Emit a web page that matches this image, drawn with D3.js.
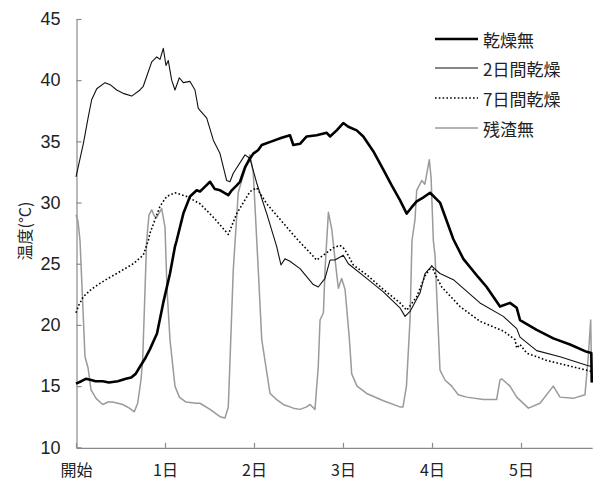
<!DOCTYPE html>
<html>
<head>
<meta charset="utf-8">
<script src="https://cdn.jsdelivr.net/npm/d3@7"></script>
<style>
  body { margin: 0; background: #fff; }
  svg { display: block; }
</style>
</head>
<body>
<svg id="chart" width="597" height="481"></svg>
<script>
// Elapsed time in days, temperature in °C
const dayTicks = [0, 1, 2, 3, 4, 5];
const dayLabels = ["開始", "1日", "2日", "3日", "4日", "5日"];
const tempTicks = [10, 15, 20, 25, 30, 35, 40, 45];
const seriesNames = ["乾燥無", "2日間乾燥", "7日間乾燥", "残渣無"];
const axisTitle = "温度(°C)";

const noDrying = [[0,15.2],[0.06,15.4],[0.11,15.6],[0.17,15.5],[0.22,15.4],[0.3,15.4],[0.37,15.3],[0.47,15.4],[0.56,15.6],[0.62,15.7],[0.67,16.0],[0.72,16.6],[0.78,17.3],[0.83,18.0],[0.91,19.3],[0.98,21.8],[1.056,24.2],[1.112,26.4],[1.131,26.9],[1.206,29.1],[1.281,30.5],[1.356,31.0],[1.393,30.9],[1.45,31.3],[1.506,31.7],[1.56,31.1],[1.62,31.0],[1.711,30.6],[1.75,31.0],[1.806,31.4],[1.843,31.7],[1.9,32.9],[1.955,33.6],[1.992,34.0],[2.048,34.3],[2.087,34.7],[2.199,35.0],[2.311,35.3],[2.404,35.5],[2.442,34.7],[2.517,34.8],[2.592,35.4],[2.704,35.5],[2.817,35.7],[2.854,35.4],[2.929,35.9],[3.003,36.5],[3.06,36.2],[3.154,35.9],[3.228,35.4],[3.34,34.2],[3.453,32.7],[3.547,31.4],[3.64,30.2],[3.716,29.1],[3.77,29.6],[3.828,30.1],[3.9,30.4],[3.978,30.8],[4.09,30.0],[4.24,27.0],[4.352,25.4],[4.52,23.9],[4.614,23.1],[4.764,21.5],[4.876,21.8],[4.952,21.4],[4.989,20.4],[5.176,19.6],[5.363,18.9],[5.551,18.4],[5.738,17.8],[5.79,17.7],[5.795,15.3]];

const twoDayDrying = [[0,32.1],[0.082,34.8],[0.138,37.0],[0.176,38.4],[0.233,39.3],[0.326,39.8],[0.39,39.6],[0.457,39.2],[0.54,38.9],[0.626,38.7],[0.719,39.2],[0.756,39.5],[0.794,40.3],[0.851,41.5],[0.907,41.9],[0.944,41.7],[0.981,42.6],[1.011,41.2],[1.037,41.6],[1.075,40.0],[1.112,39.2],[1.161,40.2],[1.206,39.8],[1.281,39.9],[1.337,39.2],[1.374,37.7],[1.469,36.9],[1.543,35.1],[1.618,34.0],[1.693,31.8],[1.73,31.7],[1.767,32.4],[1.899,33.9],[1.955,33.6],[2.03,31.6],[2.143,29.1],[2.255,26.4],[2.303,24.9],[2.348,25.4],[2.404,25.2],[2.517,24.6],[2.666,23.3],[2.722,23.1],[2.798,23.8],[2.854,25.3],[2.91,25.3],[3.003,25.7],[3.06,25.0],[3.266,23.8],[3.453,22.7],[3.64,21.4],[3.697,20.7],[3.753,21.1],[3.865,22.6],[3.921,24.2],[3.997,24.8],[4.09,24.2],[4.24,23.7],[4.539,21.8],[4.801,20.7],[4.952,19.7],[4.989,19.0],[5.176,17.9],[5.438,17.4],[5.738,16.7],[5.79,16.6]];

const sevenDayDrying = [[0,21.0],[0.03,21.6],[0.082,22.3],[0.17,22.9],[0.27,23.4],[0.36,23.8],[0.457,24.2],[0.55,24.6],[0.644,25.0],[0.756,25.7],[0.812,26.9],[0.831,27.5],[0.944,29.7],[1.019,30.5],[1.112,30.8],[1.244,30.5],[1.393,29.9],[1.543,28.8],[1.711,27.4],[1.806,29.1],[1.955,30.9],[2.03,31.2],[2.143,29.9],[2.367,28.0],[2.498,26.9],[2.629,25.9],[2.704,25.3],[2.817,25.9],[2.891,26.3],[2.966,26.5],[3.003,26.3],[3.042,25.9],[3.116,24.9],[3.266,24.1],[3.453,22.9],[3.64,21.8],[3.716,21.2],[3.828,22.3],[3.921,24.0],[3.997,24.8],[4.045,24.0],[4.109,23.1],[4.315,21.5],[4.539,20.3],[4.801,19.5],[4.933,18.8],[4.952,18.1],[4.989,18.4],[5.064,17.7],[5.289,17.1],[5.513,16.7],[5.738,16.3],[5.79,16.2]];

const noResidue = [[0,29.0],[0.022,28.5],[0.045,26.9],[0.101,17.4],[0.135,16.5],[0.169,14.7],[0.225,14.0],[0.3,13.5],[0.36,13.7],[0.412,13.7],[0.47,13.6],[0.525,13.5],[0.6,13.2],[0.655,12.9],[0.693,13.6],[0.73,15.5],[0.749,17.1],[0.794,26.9],[0.82,29.0],[0.851,29.4],[0.88,28.9],[0.907,28.8],[0.963,29.5],[1.0,28.0],[1.022,23.0],[1.056,18.8],[1.112,15.0],[1.161,14.1],[1.236,13.7],[1.348,13.6],[1.393,13.6],[1.506,13.1],[1.618,12.5],[1.674,12.4],[1.711,13.3],[1.73,17.0],[1.767,24.5],[1.823,30.8],[1.862,31.8],[1.899,32.7],[1.955,33.9],[1.992,32.4],[2.011,29.7],[2.048,24.5],[2.087,18.8],[2.18,14.4],[2.255,13.9],[2.329,13.5],[2.442,13.2],[2.517,13.1],[2.592,13.3],[2.629,13.5],[2.685,13.1],[2.722,16.6],[2.742,20.4],[2.78,21.0],[2.798,24.5],[2.817,26.9],[2.836,29.2],[2.874,27.8],[2.911,25.3],[2.948,23.0],[2.985,23.8],[3.023,22.9],[3.04,21.5],[3.07,19.0],[3.098,16.0],[3.157,15.0],[3.266,14.4],[3.453,13.8],[3.64,13.3],[3.674,13.3],[3.713,15.0],[3.753,20.4],[3.775,26.9],[3.809,28.6],[3.828,31.0],[3.885,31.8],[3.92,31.5],[3.97,33.5],[3.99,32.0],[4.015,26.9],[4.034,25.7],[4.09,16.3],[4.146,15.5],[4.221,15.0],[4.295,14.3],[4.39,14.1],[4.576,13.9],[4.726,13.9],[4.764,15.5],[4.783,15.6],[4.876,15.0],[4.952,14.1],[5.083,13.2],[5.213,13.6],[5.363,15.0],[5.438,14.1],[5.587,14.0],[5.719,14.3],[5.756,17.4],[5.783,20.4],[5.795,15.3]];

const seriesData = [noDrying, twoDayDrying, sevenDayDrying, noResidue];
const seriesStyle = [
  { stroke: "#000", width: 2.6, dash: null },
  { stroke: "#111", width: 1.1, dash: null },
  { stroke: "#000", width: 1.6, dash: "1.6,2.2" },
  { stroke: "#9a9a9a", width: 1.5, dash: null }
];

const svg = d3.select("#chart");
const x = d3.scaleLinear().domain([0, 5.8]).range([76, 592.2]);
const y = d3.scaleLinear().domain([10, 45]).range([447.3, 19]);

const axisColor = "#8a8a8a";
const tickFont = "'Liberation Sans', Arial, sans-serif";
const cjkFont = "'Noto Sans CJK JP', 'Noto Sans CJK SC', sans-serif";

// Y axis (ticks pointing inward)
const yAxis = svg.append("g")
  .attr("transform", `translate(${x(0) + 0.5},0)`)
  .call(d3.axisLeft(y).tickValues(tempTicks).tickSizeInner(-5).tickSizeOuter(0).tickPadding(16));
yAxis.select(".domain").attr("stroke", axisColor).attr("stroke-width", 1.2);
yAxis.selectAll(".tick line").attr("stroke", axisColor).attr("stroke-width", 1.2);
yAxis.selectAll(".tick text")
  .attr("fill", "#222").style("font-family", tickFont).style("font-size", "18px");

// X axis (ticks pointing inward)
const xAxis = svg.append("g")
  .attr("transform", `translate(0,${y(10) + 0.5})`)
  .call(d3.axisBottom(x).tickValues(dayTicks).tickFormat((d, i) => dayLabels[i])
    .tickSizeInner(-5).tickSizeOuter(0).tickPadding(17));
xAxis.select(".domain").attr("stroke", axisColor).attr("stroke-width", 1.2);
xAxis.selectAll(".tick line").attr("stroke", axisColor).attr("stroke-width", 1.2);
xAxis.selectAll(".tick text")
  .attr("fill", "#222").style("font-family", cjkFont).style("font-size", "16px");

// Y axis title
svg.append("text")
  .attr("transform", "translate(24,231) rotate(-90)")
  .attr("text-anchor", "middle")
  .attr("dominant-baseline", "central")
  .attr("fill", "#222")
  .style("font-family", cjkFont)
  .style("font-size", "16px")
  .text(axisTitle);

// Temperature series (grey drawn first, thick last)
const line = d3.line().x(d => x(d[0])).y(d => y(d[1]));
const drawOrder = [3, 2, 1, 0];
drawOrder.forEach(i => {
  const s = seriesStyle[i];
  svg.append("path")
    .datum(seriesData[i])
    .attr("fill", "none")
    .attr("stroke", s.stroke)
    .attr("stroke-width", s.width)
    .attr("stroke-linejoin", "round")
    .attr("stroke-dasharray", s.dash)
    .attr("d", line);
});

// Legend
const legendRows = [39, 68, 98, 128];
const legend = svg.append("g");
seriesNames.forEach((name, i) => {
  const s = seriesStyle[i];
  legend.append("line")
    .attr("x1", 435).attr("x2", 478)
    .attr("y1", legendRows[i]).attr("y2", legendRows[i])
    .attr("stroke", s.stroke)
    .attr("stroke-width", s.width)
    .attr("stroke-dasharray", s.dash);
  legend.append("text")
    .attr("x", 483).attr("y", legendRows[i])
    .attr("dominant-baseline", "central")
    .attr("fill", "#222")
    .style("font-family", cjkFont)
    .style("font-size", "17px")
    .text(name);
});
</script>
</body>
</html>
